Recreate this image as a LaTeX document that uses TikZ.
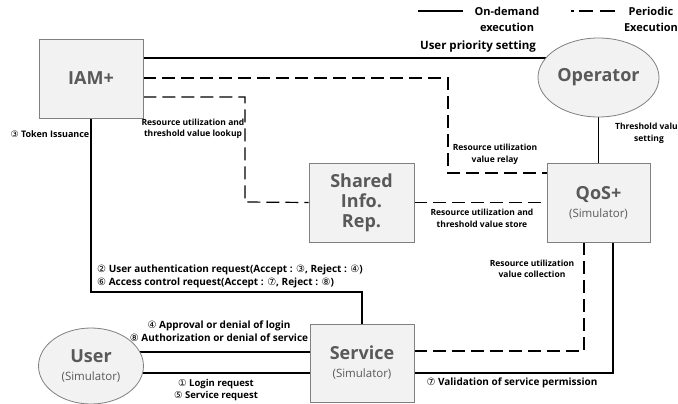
\documentclass[tikz,border=0pt]{standalone}
\usepackage{fontspec}
\setmainfont{Open Sans}
\newfontfamily\circfont{DejaVu Sans}
\usetikzlibrary{shapes.geometric,backgrounds,calc}
\newcommand{\cn}[1]{{\circfont\mdseries #1}}
\definecolor{boxfill}{HTML}{F2F2F2}
\definecolor{boxline}{HTML}{808080}
\definecolor{nodetext}{HTML}{595959}
\tikzset{
  box/.style={draw=boxline, fill=boxfill, line width=0.8pt, inner sep=0pt, align=center,
    text=nodetext, font=\bfseries\fontsize{18}{21}\selectfont},
  ell/.style={box, ellipse},
  conn/.style={line width=1.2pt, line join=miter},
  per/.style={conn, dash pattern=on 13pt off 6pt},
  lab/.style={font=\bfseries\fontsize{10}{12.5}\selectfont, align=center, inner sep=0pt},
  smalllab/.style={font=\bfseries\fontsize{8.5}{11.5}\selectfont, align=center, inner sep=0pt},
  legend/.style={font=\bfseries\fontsize{11}{16}\selectfont, align=center, inner sep=0pt},
}
\newcommand{\simtext}{{\mdseries\fontsize{11.5}{13}\selectfont (Simulator)}}
\begin{document}
\begin{tikzpicture}[x=1pt,y=-1pt]
\useasboundingbox (0,0) rectangle (678,404);
\clip (0,0) rectangle (678,404);
% nodes
\node[box, minimum width=104pt, minimum height=79pt] (iam) at (91,78.5) {IAM+};
\node[ell, minimum width=121pt, minimum height=79pt] (op) at (598.5,77.5) {Operator};
\node[box, minimum width=105pt, minimum height=79pt] (shared) at (361.5,202.5) {Shared\\[-1pt]Info.\\[-1pt]Rep.};
\node[box, minimum width=103pt, minimum height=79pt] (qos) at (598.5,202.5) {QoS+\\[-3pt]\simtext};
\node[ell, minimum width=105pt, minimum height=76pt] (user) at (91,366) {User\\[-3pt]\simtext};
\node[box, minimum width=104pt, minimum height=78pt] (service) at (362,363) {Service\\[-3pt]\simtext};
% connectors
\begin{scope}[on background layer]
\draw[conn] (iam.east |- 0,58) -- (op.center |- 0,58);
\draw[per] (iam.east |- 0,78) -- (448,78) -- (448,173) -- (qos.west |- 0,173);
\draw[per] (iam.east |- 0,97) -- (245,97) -- (245,202) -- (shared.west);
\draw[per] (shared.east) -- (qos.west |- shared.east);
\draw[conn] (op.center) -- (qos.north);
\draw[conn] (iam.south) -- (91,292) -- (service.north |- 0,292) -- (service.north);
\draw[conn] (service.west |- 0,352) -- (user.center |- 0,352);
\draw[conn] (service.west |- 0,373) -- (user.center |- 0,373);
\draw[per] (service.east |- 0,351) -- (584,351) -- (qos.south -| 584,0);
\draw[conn] (service.east |- 0,373) -- (613,373) -- (qos.south -| 613,0);
\end{scope}
% legend
\coordinate (l1a) at (418,11);
\coordinate (l1b) at (463,11);
\coordinate (l2a) at (571,11);
\coordinate (l2b) at (615,11);
\draw[conn] (l1a) -- (l1b);
\draw[conn, dash pattern=on 3pt off 5pt on 14pt off 7pt on 15pt] (l2a) -- (l2b);
\node[legend] (leg1) at (507,19) {On-demand\\execution};
\node[legend] (leg2) at (651,19) {Periodic\\Execution};
% labels
\node[lab, font=\bfseries\fontsize{11.5}{13}\selectfont] (l-prio) at (478,47) {User priority setting};
\node[smalllab] (l-lookup) at (193,129) {Resource utilization and\\threshold value lookup};
\node[smalllab, font=\bfseries\fontsize{9}{11}\selectfont] (l-token) at (50,134) {\cn{③} Token Issuance};
\node[smalllab] (l-relay) at (495,154.5) {Resource utilization\\value relay};
\node[smalllab] (l-thr) at (649,133.5) {Threshold value\\setting};
\node[smalllab] (l-store) at (482,218.5) {Resource utilization and\\threshold value store};
\node[smalllab] (l-coll) at (532,269) {Resource utilization\\value collection};
\node[lab, align=left, anchor=west] (l-auth) at (97,276.5) {\cn{②} User authentication request(Accept : \cn{③}, Reject : \cn{④})\\\cn{⑥} Access control request(Accept : \cn{⑦}, Reject : \cn{⑧})};
\node[lab] (l-appr) at (219,331) {\cn{④} Approval or denial of login\\\cn{⑧} Authorization or denial of service};
\node[lab, font=\bfseries\fontsize{9.5}{12}\selectfont] (l-login) at (216,390) {\cn{①} Login request\\\cn{⑤} Service request};
\node[lab] (l-valid) at (512,383) {\cn{⑦} Validation of service permission};
\end{tikzpicture}
\end{document}
